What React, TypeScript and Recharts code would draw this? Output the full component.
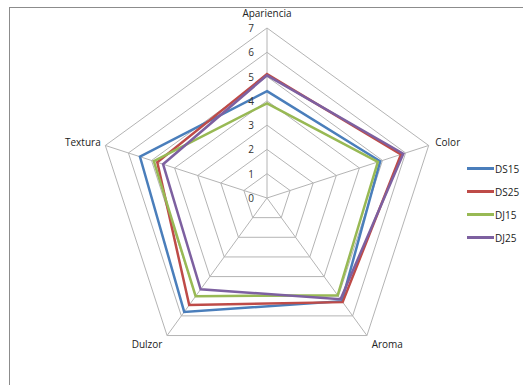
import { RadarChart, Radar, PolarGrid, PolarAngleAxis, PolarRadiusAxis } from 'recharts';

const atributos = ['Apariencia', 'Color', 'Aroma', 'Dulzor', 'Textura'];
const ds15 = [4.4, 4.9, 5.25, 5.8, 5.5];
const ds25 = [5.1, 5.8, 5.3, 5.45, 4.75];
const dj15 = [3.9, 4.8, 4.95, 5.0, 4.9];
const dj25 = [5.05, 5.9, 5.15, 4.65, 4.5];
const radiusTicks = [0, 1, 2, 3, 4, 5, 6, 7];

const series = [
  { key: 'DS15', color: '#4a7ebb' },
  { key: 'DS25', color: '#be4b48' },
  { key: 'DJ15', color: '#98b954' },
  { key: 'DJ25', color: '#7d60a0' },
];

const data = atributos.map((a, i) => ({
  atributo: a,
  DS15: ds15[i],
  DS25: ds25[i],
  DJ15: dj15[i],
  DJ25: dj25[i],
}));

const CX = 267;
const CY = 198;
const FONT = '"Open Sans", Lato, sans-serif';

const AngleTick = ({ x, y, payload }: any) => {
  const dx = x - CX;
  const dy = y - CY;
  let anchor: 'middle' | 'start' | 'end' = 'middle';
  let ox = 0;
  let oy = 4;
  if (Math.abs(dx) < 2) {
    oy = -3;
  } else if (dx > 0) {
    anchor = 'start';
    if (dy > 20) { ox = 0; oy = 6; } else { ox = -1; oy = 3; }
  } else {
    anchor = 'end';
    if (dy > 20) { ox = 0; oy = 6; } else { ox = 3; oy = 3; }
  }
  return (
    <text x={x + ox} y={y + oy} textAnchor={anchor} fontSize={10} fill="#222" fontFamily={FONT}>
      {payload.value}
    </text>
  );
};

const RadiusTick = ({ x, y, payload }: any) => (
  <text x={x - 16} y={y + 4} textAnchor="middle" fontSize={10} fill="#333" fontFamily={FONT}>
    {payload.value}
  </text>
);

export default function App() {
  return (
    <div style={{ position: 'absolute', left: 0, top: 0, width: 523, height: 385, background: '#fff' }}>
      <div style={{
        position: 'absolute', left: 9, top: 7, width: 530, height: 400,
        borderTop: '1px solid #8c8c8c', borderLeft: '1px solid #8c8c8c',
      }} />
      <div style={{ position: 'absolute', left: 0, top: 0 }}>
        <RadarChart width={523} height={385} data={data} cx={CX} cy={CY} outerRadius={170}
          margin={{ top: 0, right: 0, bottom: 0, left: 0 }}>
          <PolarGrid gridType="polygon" stroke="#b4b4b4" strokeWidth={1} />
          <PolarAngleAxis dataKey="atributo" tick={<AngleTick />} tickLine={false} axisLine={false} />
          <PolarRadiusAxis angle={90} domain={[0, 7]} ticks={radiusTicks as any} tickCount={8}
            tick={<RadiusTick />} axisLine={false} tickLine={false} />
          {series.map((s) => (
            <Radar key={s.key} dataKey={s.key} stroke={s.color} strokeWidth={2.5}
              fill="none" fillOpacity={0} isAnimationActive={false} dot={false} />
          ))}
        </RadarChart>
      </div>
      <div style={{ position: 'absolute', left: 467, top: 157 }}>
        {series.map((s) => (
          <div key={s.key} style={{ display: 'flex', alignItems: 'center', height: 23 }}>
            <div style={{ width: 27, height: 3, background: s.color }} />
            <span style={{ fontSize: 10, fontFamily: FONT, color: '#222', marginLeft: 1 }}>{s.key}</span>
          </div>
        ))}
      </div>
    </div>
  );
}
